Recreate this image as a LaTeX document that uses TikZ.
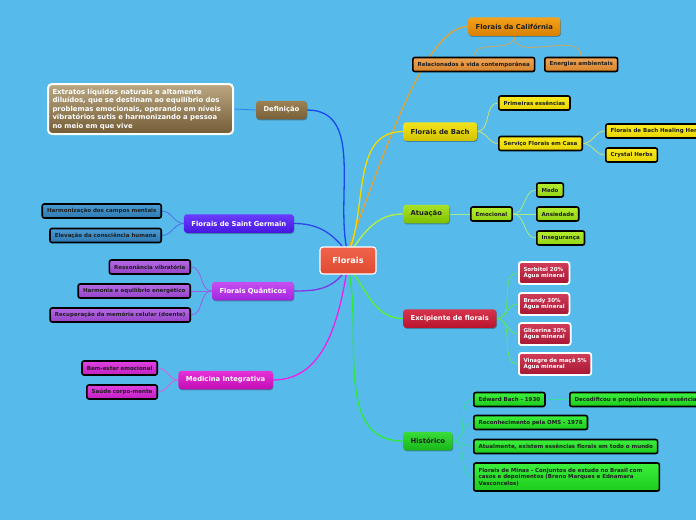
\documentclass[tikz,border=0pt]{standalone}
\usepackage{fontspec}
\setmainfont{DejaVu Sans}
\usetikzlibrary{shadows}

\definecolor{bg}{HTML}{56BBEA}
\definecolor{txtdark}{HTML}{1E1E1E}
% node colours (top / bottom)
\definecolor{floT}{HTML}{F0634A}\definecolor{floB}{HTML}{E04A32}
\definecolor{calT}{HTML}{F5A21C}\definecolor{calB}{HTML}{D98000}
\definecolor{bachT}{HTML}{F2E41C}\definecolor{bachB}{HTML}{D2C200}
\definecolor{atuT}{HTML}{A8E428}\definecolor{atuB}{HTML}{80C000}
\definecolor{excT}{HTML}{D8344E}\definecolor{excB}{HTML}{B8142E}
\definecolor{hisT}{HTML}{3ADC3A}\definecolor{hisB}{HTML}{18B818}
\definecolor{defT}{HTML}{9C8254}\definecolor{defB}{HTML}{77603A}
\definecolor{sgT}{HTML}{6A3CFF}\definecolor{sgB}{HTML}{4818E2}
\definecolor{quaT}{HTML}{C650F4}\definecolor{quaB}{HTML}{A424DC}
\definecolor{mdiT}{HTML}{E632D8}\definecolor{mdiB}{HTML}{C20CB4}
% leaf colours
\definecolor{calLT}{HTML}{EEA454}\definecolor{calLB}{HTML}{D8832A}
\definecolor{bachLT}{HTML}{FAEC20}\definecolor{bachLB}{HTML}{E6D400}
\definecolor{atuLT}{HTML}{B4EC30}\definecolor{atuLB}{HTML}{92D412}
\definecolor{excLT}{HTML}{D23C58}\definecolor{excLB}{HTML}{A51632}
\definecolor{hisLT}{HTML}{3CF03C}\definecolor{hisLB}{HTML}{1CCC1C}
\definecolor{defLT}{HTML}{BBA882}\definecolor{defLB}{HTML}{735C36}
\definecolor{sgLT}{HTML}{4A9CD4}\definecolor{sgLB}{HTML}{2E78B0}
\definecolor{quaLT}{HTML}{B66AE6}\definecolor{quaLB}{HTML}{9442C8}
\definecolor{mdiLT}{HTML}{E242E2}\definecolor{mdiLB}{HTML}{C21EC2}
% connector colours
\definecolor{calW}{HTML}{E3A232}\definecolor{calS}{HTML}{CDA860}
\definecolor{bachW}{HTML}{F2DC00}\definecolor{bachS}{HTML}{C8E27A}
\definecolor{atuW}{HTML}{B4F040}\definecolor{atuS}{HTML}{A4EC8A}
\definecolor{excW}{HTML}{58F030}\definecolor{excS}{HTML}{5CE45C}
\definecolor{hisW}{HTML}{30E83A}\definecolor{hisS}{HTML}{3CDCA0}
\definecolor{defW}{HTML}{1848F0}\definecolor{defS}{HTML}{2A82F2}
\definecolor{sgW}{HTML}{2E44EC}\definecolor{sgS}{HTML}{4C6EE8}
\definecolor{quaW}{HTML}{8236E4}\definecolor{quaS}{HTML}{9A5EE6}
\definecolor{mdiW}{HTML}{F020E6}\definecolor{mdiS}{HTML}{D462D6}

\pgfdeclarelayer{canvas}
\pgfdeclarelayer{wires}
\pgfsetlayers{canvas,wires,main}

\tikzset{
  hub/.style={rounded corners=3pt, draw=white, line width=1.2pt,
    top color=floT, bottom color=floB, text=white,
    font=\bfseries\fontsize{8.2}{9}\selectfont, minimum width=56pt, minimum height=27pt},
  topic/.style={rounded corners=3pt, inner xsep=7.5pt, minimum height=18.5pt,
    top color=#1T, bottom color=#1B,
    font=\bfseries\fontsize{6.8}{8}\selectfont,
    drop shadow={shadow xshift=0.6pt, shadow yshift=-1pt, opacity=0.3, fill=black}},
  leaf/.style={rounded corners=2pt, draw=black, line width=1.6pt, text=txtdark,
    top color=#1LT, bottom color=#1LB,
    inner xsep=4.8pt, inner ysep=1pt, minimum height=14pt,
    font=\bfseries\fontsize{5.5}{6.5}\selectfont},
  mix/.style={rounded corners=2.5pt, draw=white, line width=1.8pt,
    top color=excLT, bottom color=excLB, text=white, align=left,
    inner xsep=4.6pt, inner ysep=2pt, minimum height=22pt,
    font=\bfseries\fontsize{5.5}{6.6}\selectfont},
  defnote/.style={rounded corners=4pt, draw=white, line width=2pt,
    top color=defLT, bottom color=defLB, text=white, align=left,
    text width=176pt, inner xsep=4.5pt, inner ysep=3pt, minimum height=50pt,
    font=\bfseries\fontsize{6.9}{8.5}\selectfont},
  mainline/.style={line width=1.3pt, draw=#1W},
  subline/.style={line width=0.8pt, draw=#1S},
}

\begin{document}
\begin{tikzpicture}[x=1pt,y=1pt]
\useasboundingbox (0,0) rectangle (696,-520);
\begin{pgfonlayer}{canvas}
\fill[bg] (0,0) rectangle (696,-520);
\end{pgfonlayer}

% centre
\node[hub] (flo) at (348,-260.5) {Florais};

% right side topics
\node[topic=cal, text=txtdark, anchor=west] (cal) at (468,-26.5) {Florais da Califórnia};
\node[topic=bach, text=txtdark, anchor=west] (bach) at (403,-131.5) {Florais de Bach};
\node[topic=atu, text=txtdark, anchor=west] (atu) at (403,-214) {Atuação};
\node[topic=exc, text=white, anchor=west] (exc) at (403,-318.5) {Excipiente de florais};
\node[topic=his, text=txtdark, anchor=west] (his) at (403,-441) {Histórico};

% left side topics
\node[topic=def, text=white, anchor=east] (def) at (307,-110) {Definição};
\node[topic=sg, text=white, anchor=east] (sg) at (294,-223.5) {Florais de Saint Germain};
\node[topic=qua, text=white, anchor=east] (qua) at (294,-291) {Florais Quânticos};
\node[topic=mdi, text=white, anchor=east] (mdi) at (273,-380) {Medicina Integrativa};

% Florais da California
\node[leaf=cal, anchor=west] (rel) at (412,-64.5) {Relacionados à vida contemporânea};
\node[leaf=cal, anchor=west] (ene) at (544,-64.5) {Energias ambientais};

% Florais de Bach
\node[leaf=bach, anchor=west] (pri) at (498,-103) {Primeiras essências};
\node[leaf=bach, anchor=west] (srv) at (498,-143.5) {Serviço Florais em Casa};
\node[leaf=bach, anchor=west] (hh) at (605,-131) {Florais de Bach Healing Herbs};
\node[leaf=bach, anchor=west] (cry) at (605,-155) {Crystal Herbs};

% Atuacao
\node[leaf=atu, anchor=west] (emo) at (470,-214) {Emocional};
\node[leaf=atu, anchor=west] (medo) at (536,-190) {Medo};
\node[leaf=atu, anchor=west] (ans) at (536,-214) {Ansiedade};
\node[leaf=atu, anchor=west] (ins) at (536,-238) {Insegurança};

% Excipiente
\node[mix, anchor=west] (sor) at (518,-273) {Sorbitol 20\%\\Água mineral};
\node[mix, anchor=west] (bra) at (518,-304) {Brandy 30\%\\Água mineral};
\node[mix, anchor=west] (gli) at (518,-334) {Glicerina 30\%\\Água mineral};
\node[mix, anchor=west] (vin) at (518,-364) {Vinagre de maçã 5\%\\Água mineral};

% Historico
\node[leaf=his, anchor=west] (edw) at (473,-399.5) {Edward Bach - 1930};
\node[leaf=his, anchor=west] (dec) at (569,-399.5) {Decodificou e propulsionou as essências};
\node[leaf=his, anchor=west] (oms) at (473,-422.5) {Reconhecimento pela OMS - 1976};
\node[leaf=his, anchor=west] (atl) at (473,-446.5) {Atualmente, existem essências florais em todo o mundo};
\node[leaf=his, anchor=west, align=left, text width=176pt, inner ysep=2pt, minimum height=28pt] (min) at (473,-477) {Florais de Minas - Conjuntos de estudo no Brasil com\\casos e depoimentos (Breno Marques e Ednamara\\Vasconcelos)};

% Definicao
\node[defnote, anchor=east] (ext) at (234,-109) {Extratos líquidos naturais e altamente\\diluídos, que se destinam ao equilíbrio dos\\problemas emocionais, operando em níveis\\vibratórios sutis e harmonizando a pessoa\\no meio em que vive};

% Saint Germain
\node[leaf=sg, anchor=east] (hcm) at (162,-211) {Harmonização dos campos mentais};
\node[leaf=sg, anchor=east] (ech) at (162,-235.5) {Elevação da consciência humana};

% Quanticos
\node[leaf=qua, anchor=east] (res) at (191,-267) {Ressonância vibratória};
\node[leaf=qua, anchor=east] (har) at (191,-291) {Harmonia e equilíbrio energético};
\node[leaf=qua, anchor=east] (rec) at (191,-315) {Recuperação da memória celular (doente)};

% Medicina Integrativa
\node[leaf=mdi, anchor=east] (bem) at (158,-368) {Bem-estar emocional};
\node[leaf=mdi, anchor=east] (sau) at (158,-392) {Saúde corpo-mente};

\begin{pgfonlayer}{wires}
% main connectors
\draw[mainline=cal] (flo.84) .. controls +(70:120) and +(180:40) .. (cal.west);
\draw[mainline=bach] (flo.78) to[out=72, in=180] (bach.west);
\draw[mainline=atu] (flo.66) to[out=55, in=180] (atu.west);
\draw[mainline=exc] (flo.-66) to[out=-55, in=180] (exc.west);
\draw[mainline=his] (flo.-84) to[out=-80, in=180] (his.west);
\draw[mainline=def] (flo.97) to[out=100, in=0] (def.east);
\draw[mainline=sg] (flo.112) to[out=130, in=0] (sg.east);
\draw[mainline=qua] (flo.-112) to[out=-130, in=0] (qua.east);
\draw[mainline=mdi] (flo.-97) to[out=-100, in=0] (mdi.east);

% sub connectors
\draw[subline=cal] (cal.south) to[out=-90, in=90] (rel.north);
\draw[subline=cal] (cal.south) to[out=-90, in=90] (ene.north);
\draw[subline=bach] (bach.east) to[out=0, in=180] (pri.west);
\draw[subline=bach] (bach.east) to[out=0, in=180] (srv.west);
\draw[subline=bach] (srv.east) to[out=0, in=180] (hh.west);
\draw[subline=bach] (srv.east) to[out=0, in=180] (cry.west);
\draw[subline=atu] (atu.east) -- (emo.west);
\draw[subline=atu] (emo.east) to[out=0, in=180] (medo.west);
\draw[subline=atu] (emo.east) -- (ans.west);
\draw[subline=atu] (emo.east) to[out=0, in=180] (ins.west);
\foreach \m in {sor,bra,gli,vin}
  \draw[subline=exc] (exc.east) to[out=0, in=180] (\m.west);
\foreach \h in {edw,oms,atl,min}
  \draw[subline=his] (his.east) to[out=0, in=180] (\h.west);
\draw[subline=his] (edw.east) -- (dec.west);
\draw[subline=def] (def.west) -- (ext.east);
\draw[subline=sg] (sg.west) to[out=180, in=0] (hcm.east);
\draw[subline=sg] (sg.west) to[out=180, in=0] (ech.east);
\draw[subline=qua] (qua.west) to[out=180, in=0] (res.east);
\draw[subline=qua] (qua.west) -- (har.east);
\draw[subline=qua] (qua.west) to[out=180, in=0] (rec.east);
\draw[subline=mdi] (mdi.west) to[out=180, in=0] (bem.east);
\draw[subline=mdi] (mdi.west) to[out=180, in=0] (sau.east);
\end{pgfonlayer}
\end{tikzpicture}
\end{document}
